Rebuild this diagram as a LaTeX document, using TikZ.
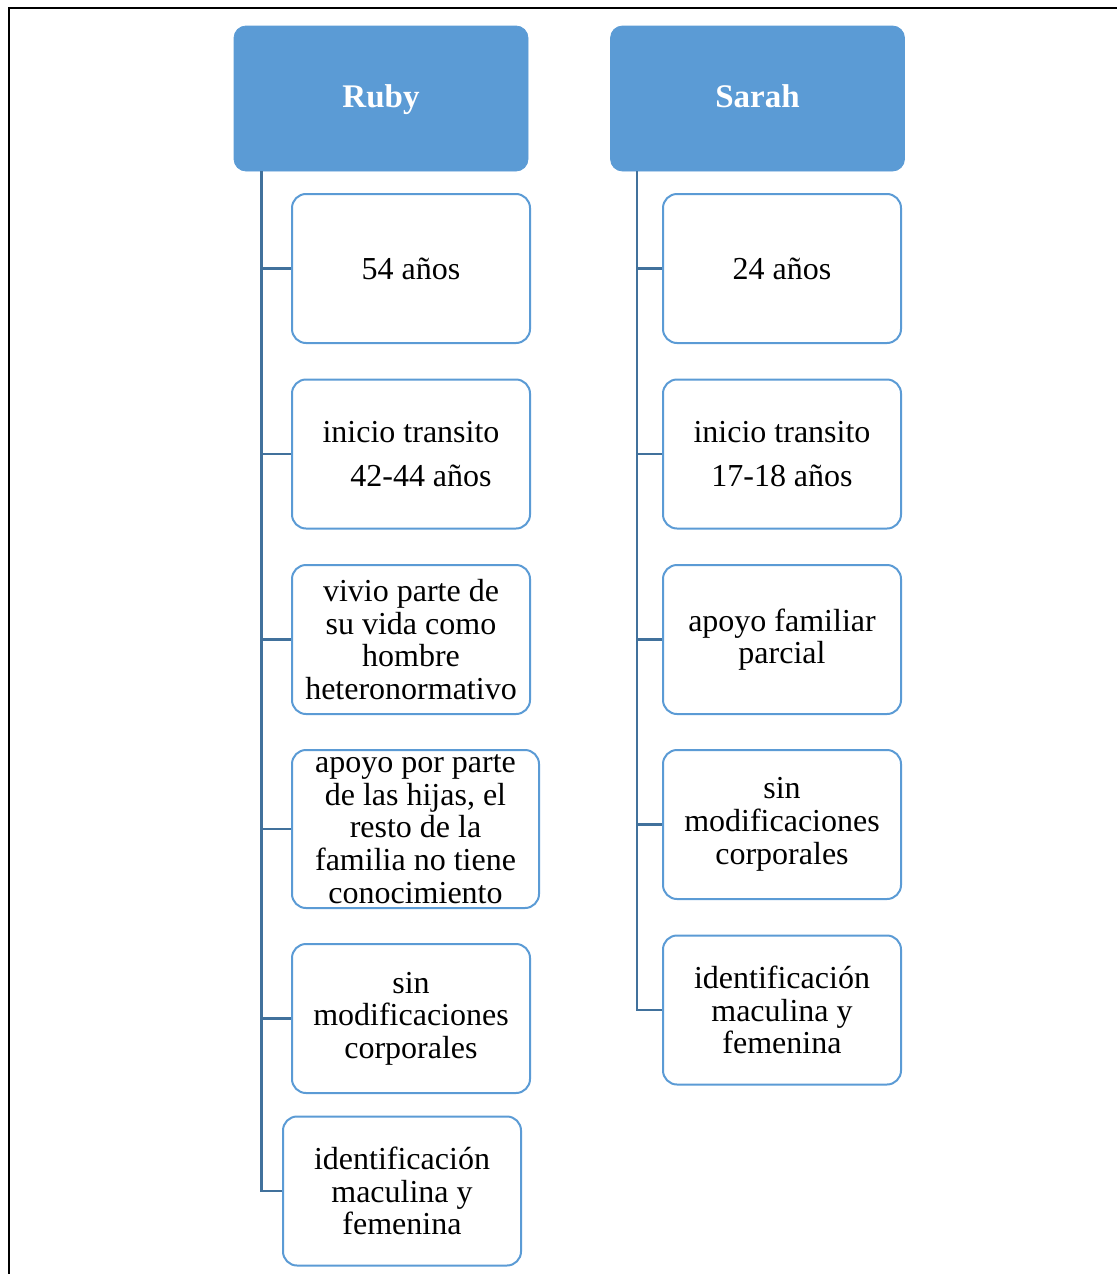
\documentclass[tikz,border=0pt]{standalone}
\usepackage{fontspec}
\setmainfont{Liberation Serif}
\definecolor{headblue}{HTML}{5B9BD5}
\definecolor{lineblue}{HTML}{41719C}
\tikzset{
  head/.style={fill=headblue, draw=headblue, rounded corners=6pt, text=white,
    minimum width=147pt, minimum height=72.5pt, align=center,
    text height=12pt, text depth=3.5pt,
    font=\fontsize{16.5}{18}\selectfont\bfseries},
  leaf/.style={draw=headblue, line width=1pt, rounded corners=7pt, fill=white,
    minimum width=119pt, minimum height=74.5pt, inner sep=1pt, align=center,
    font=\fontsize{16}{16.35}\selectfont},
  conn/.style={draw=lineblue, line width=1.2pt}
}
\begin{document}
\begin{tikzpicture}[x=0.5pt, y=-0.5pt]
  \useasboundingbox (0,0) rectangle (1117,1274);
  \draw[line width=1pt] (1117,8) -- (9,8) -- (9,1274);
  % Ruby
  \node[head] (ruby) at (381, 98.5) {Ruby};
  \node[leaf] (r1) at (411, 268.5) {54 años};
  \node[leaf] (r2) at (411, 454) {inicio transito\\[6pt]\hspace*{10pt}42-44 años};
  \node[leaf] (r3) at (411, 639.5) {vivio parte de\\su vida como\\hombre\\heteronormativo};
  \node[leaf, minimum width=123.5pt, minimum height=79pt] (r4) at (415.5, 829) {apoyo por parte\\de las hijas, el\\resto de la\\familia no tiene\\conocimiento};
  \node[leaf] (r5) at (411, 1018.5) {sin\\modificaciones\\corporales};
  \node[leaf] (r6) at (402, 1191) {identificación\\maculina y\\femenina};
  % Sarah
  \node[head] (sarah) at (757.5, 98.5) {Sarah};
  \node[leaf] (s1) at (782, 268.5) {24 años};
  \node[leaf] (s2) at (782, 454) {inicio transito\\[6pt]17-18 años};
  \node[leaf] (s3) at (782, 639.5) {apoyo familiar\\parcial};
  \node[leaf] (s4) at (782, 824.5) {sin\\modificaciones\\corporales};
  \node[leaf] (s5) at (782, 1010) {identificación\\maculina y\\femenina};
  % connectors
  \draw[conn] ([xshift=14pt]ruby.south west) |- (r1.west);
  \draw[conn] ([xshift=14pt]ruby.south west) |- (r2.west);
  \draw[conn] ([xshift=14pt]ruby.south west) |- (r3.west);
  \draw[conn] ([xshift=14pt]ruby.south west) |- (r4.west);
  \draw[conn] ([xshift=14pt]ruby.south west) |- (r5.west);
  \draw[conn] ([xshift=14pt]ruby.south west) |- (r6.west);
  \draw[conn] ([xshift=13.5pt]sarah.south west) |- (s1.west);
  \draw[conn] ([xshift=13.5pt]sarah.south west) |- (s2.west);
  \draw[conn] ([xshift=13.5pt]sarah.south west) |- (s3.west);
  \draw[conn] ([xshift=13.5pt]sarah.south west) |- (s4.west);
  \draw[conn] ([xshift=13.5pt]sarah.south west) |- (s5.west);
\end{tikzpicture}
\end{document}
